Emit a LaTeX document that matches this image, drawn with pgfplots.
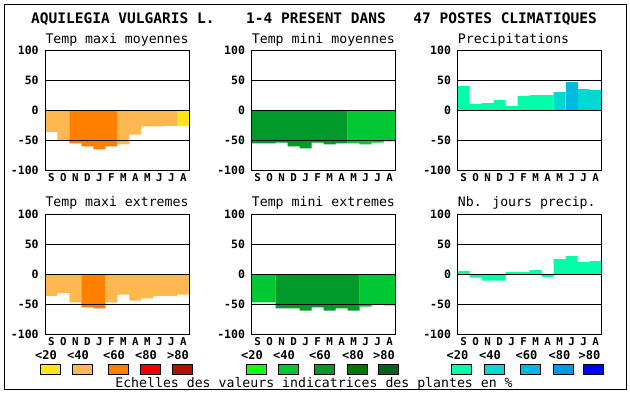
\documentclass[border=0pt]{standalone}
\usepackage{pgfplots}
\pgfplotsset{compat=1.18}
\usepackage{fontspec}
\setmainfont{DejaVu Sans Mono}
\definecolor{y1}{HTML}{FFE41A}
\definecolor{o2}{HTML}{FFB850}
\definecolor{o3}{HTML}{FF8000}
\definecolor{o4}{HTML}{F00000}
\definecolor{o5}{HTML}{B01000}
\definecolor{g1}{HTML}{10FF10}
\definecolor{g2}{HTML}{00C832}
\definecolor{g3}{HTML}{009A2A}
\definecolor{g4}{HTML}{007800}
\definecolor{g5}{HTML}{006020}
\definecolor{b1}{HTML}{00FFA8}
\definecolor{b2}{HTML}{00D8D0}
\definecolor{b3}{HTML}{00B8E0}
\definecolor{b4}{HTML}{0098E8}
\definecolor{b5}{HTML}{0000FF}
\pgfplotsset{
  panel/.style={
    scale only axis, width=144pt, height=119.5pt,
    anchor=south west,
    xmin=0, xmax=12, ymin=-100, ymax=100,
    axis on top,
    axis line style={black, line width=0.9pt},
    xtick={0.5,1.5,2.5,3.5,4.5,5.5,6.5,7.5,8.5,9.5,10.5,11.5},
    xticklabels={S,O,N,D,J,F,M,A,M,J,J,A},
    ytick={-100,-50,0,50,100},
    yticklabels={-100,-50,0,50,100},
    major tick length=0pt,
    ymajorgrids, grid style={black, line width=0.9pt},
    yticklabel style={font=\fontsize{11.5}{11.5}\selectfont\bfseries, inner sep=0pt, xshift=-6.5pt},
    xticklabel style={font=\fontsize{10.8}{10.8}\selectfont\bfseries, inner sep=0pt, anchor=north, yshift=-3.8pt, text height=7.8pt, text depth=0pt},
    every axis plot/.append style={ybar, bar width=1, bar shift=0pt, draw=none},
  }
}
\newcommand\subt{\fontsize{13.2}{13.2}\selectfont}
\begin{document}
\begin{tikzpicture}[x=1pt,y=1pt]
\useasboundingbox (0,0) rectangle (630,394);
\draw[line width=1pt] (4,4) rectangle (626,389);
% title
\node[anchor=base west, inner sep=0pt, font=\fontsize{14.5}{14.5}\selectfont\bfseries] at (31,370.7) {AQUILEGIA VULGARIS L.};
\node[anchor=base west, inner sep=0pt, font=\fontsize{14.5}{14.5}\selectfont\bfseries] at (246,370.7) {1-4 PRESENT DANS};
\node[anchor=base east, inner sep=0pt, font=\fontsize{14.5}{14.5}\selectfont\bfseries] at (597,370.7) {47 POSTES CLIMATIQUES};
% subtitles
\node[anchor=base west, inner sep=0pt, font=\subt] at (45.3,350.7) {Temp maxi moyennes};
\node[anchor=base west, inner sep=0pt, font=\subt] at (251.7,350.7) {Temp mini moyennes};
\node[anchor=base west, inner sep=0pt, font=\subt] at (457.7,350.7) {Precipitations};
\node[anchor=base west, inner sep=0pt, font=\subt] at (45.3,187.3) {Temp maxi extremes};
\node[anchor=base west, inner sep=0pt, font=\subt] at (251.7,187.3) {Temp mini extremes};
\node[anchor=base west, inner sep=0pt, font=\subt] at (457.7,187.3) {Nb. jours precip.};

% Panel 1: Temp maxi moyennes
\begin{axis}[panel, at={(45.3pt,224pt)}]
\addplot[fill=o2] coordinates {(0.5,-36) (1.5,-50) (6.5,-57) (7.5,-41) (8.5,-27) (9.5,-27) (10.5,-26)};
\addplot[fill=o3] coordinates {(2.5,-55.5) (3.5,-60.5) (4.5,-65.5) (5.5,-60.5)};
\addplot[fill=y1] coordinates {(11.5,-26)};
\end{axis}
% Panel 2: Temp mini moyennes
\begin{axis}[panel, at={(251.7pt,224pt)}]
\addplot[fill=g3] coordinates {(0.5,-55.5) (1.5,-55.5) (2.5,-54) (3.5,-60.5) (4.5,-64) (5.5,-54) (6.5,-57) (7.5,-55.5)};
\addplot[fill=g2] coordinates {(8.5,-55.5) (9.5,-57) (10.5,-54) (11.5,-52)};
\end{axis}
% Panel 3: Precipitations
\begin{axis}[panel, at={(457.7pt,224pt)}]
\addplot[fill=b1] coordinates {(0.5,40.5) (1.5,10.5) (2.5,12) (3.5,17) (4.5,7) (5.5,24) (6.5,25.5) (7.5,25.5)};
\addplot[fill=b2] coordinates {(8.5,30.5) (10.5,35.5) (11.5,34)};
\addplot[fill=b3] coordinates {(9.5,47)};
\end{axis}
% Panel 4: Temp maxi extremes
\begin{axis}[panel, at={(45.3pt,60pt)}]
\addplot[fill=o2] coordinates {(0.5,-36) (1.5,-31) (2.5,-47) (5.5,-47) (6.5,-34) (7.5,-44) (8.5,-40.5) (9.5,-36) (10.5,-36) (11.5,-34)};
\addplot[fill=o3] coordinates {(3.5,-55.5) (4.5,-57)};
\end{axis}
% Panel 5: Temp mini extremes
\begin{axis}[panel, at={(251.7pt,60pt)}]
\addplot[fill=g2] coordinates {(0.5,-47) (1.5,-47) (9.5,-54) (10.5,-50) (11.5,-52)};
\addplot[fill=g3] coordinates {(2.5,-57) (3.5,-57) (4.5,-61) (5.5,-55.5) (6.5,-61) (7.5,-57) (8.5,-61)};
\end{axis}
% Panel 6: Nb. jours precip.
\begin{axis}[panel, at={(457.7pt,60pt)}]
\addplot[fill=b1] coordinates {(0.5,5.5) (1.5,-5.5) (2.5,-10.5) (3.5,-10.5) (4.5,4) (5.5,4) (6.5,7) (7.5,-4.5) (8.5,25.5) (9.5,30.5) (10.5,20.5) (11.5,22)};
\end{axis}

% legend
\foreach \xx/\cc/\ll in {40/y1/<20, 72/o2/<40, 108/o3/<60, 140/o4/<80, 172/o5/>80,
                          246/g1/<20, 278/g2/<40, 314/g3/<60, 347/g4/<80, 378/g5/>80,
                          451.5/b1/<20, 484/b2/<40, 520.5/b3/<60, 553.5/b4/<80, 583.5/b5/>80} {
  \draw[line width=0.9pt, fill=\cc] (\xx pt,20pt) rectangle ++(20pt,10pt);
  \node[inner sep=0pt, font=\fontsize{12}{12}\selectfont\bfseries] at (\xx pt+6pt,39pt) {\ll};
}
\node[anchor=base, inner sep=0pt, font=\subt] at (314,6.5) {Echelles des valeurs indicatrices des plantes en \%};
\end{tikzpicture}
\end{document}
